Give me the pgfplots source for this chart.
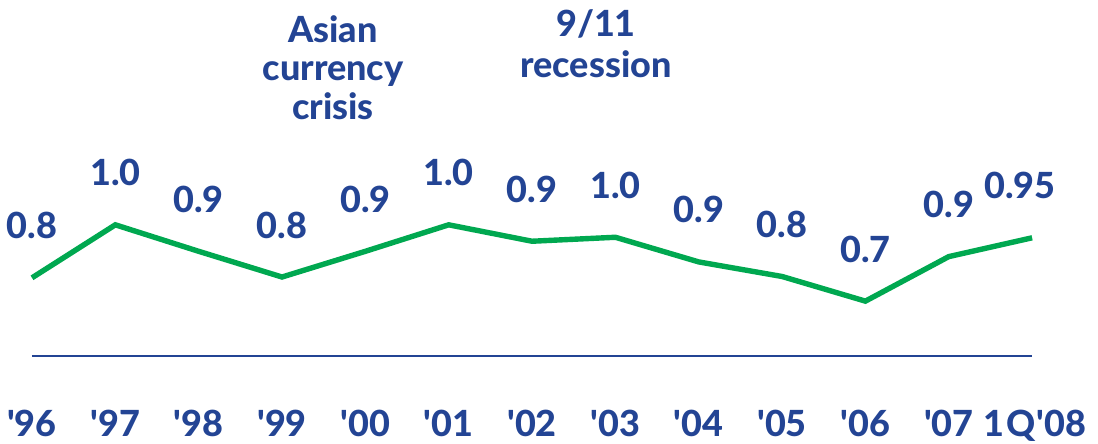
\documentclass[border=0pt]{standalone}
\usepackage{fontspec}
\setmainfont{Lato}
\newfontfamily\heavyfont{Lato Heavy}
\usepackage{pgfplots}
\pgfplotsset{compat=1.18}
\definecolor{gblue}{RGB}{35,68,148}
\definecolor{ggreen}{RGB}{0,168,80}
\newcommand{\lblfont}{\fontsize{18}{19.75}\selectfont\heavyfont}
\pgfplotstableread{
x y lab
0 0.800 0.8
1 1.000 1.0
2 0.900 0.9
3 0.803 0.8
4 0.900 0.9
5 1.000 1.0
6 0.938 0.9
7 0.953 1.0
8 0.860 0.9
9 0.805 0.8
10 0.712 0.7
11 0.880 0.9
12 0.951 0.95
}\datatable
\begin{document}
\begin{tikzpicture}
\useasboundingbox (-16pt,-44pt) rectangle (533pt,178pt);
\begin{axis}[
  x=41.67pt, y=132.5pt,
  xmin=0, xmax=12, ymin=0.505, ymax=1.0,
  axis x line*=bottom, axis y line=none,
  axis line style={-, gblue, line width=1pt},
  xtick={0,...,12},
  xticklabels={{\textquotesingle96},{\textquotesingle97},{\textquotesingle98},{\textquotesingle99},{\textquotesingle00},{\textquotesingle01},{\textquotesingle02},{\textquotesingle03},{\textquotesingle04},{\textquotesingle05},{\textquotesingle06},{\textquotesingle07},{\hspace{3pt}1\kern1pt Q\kern0.5pt\textquotesingle08}},
  major tick length=0,
  ytick=\empty,
  clip=false,
  xticklabel style={font=\lblfont, text=gblue, anchor=base, yshift=-40.5pt},
  nodes near coords,
  point meta=explicit symbolic,
  every node near coord/.append style={font=\lblfont, text=gblue, anchor=center, yshift=26pt},
  coordinate style/.condition={\coordindex==12}{xshift=-6pt},
]
\addplot[ggreen, line width=2.7pt, line join=miter] table[x=x, y=y, meta=lab] {\datatable};
\end{axis}
\node[anchor=base, text=gblue, font=\lblfont] at (150.5pt,156.5pt) {Asian};
\node[anchor=base, text=gblue, font=\lblfont] at (150.5pt,137.5pt) {currency};
\node[anchor=base, text=gblue, font=\lblfont] at (150.5pt,118pt) {crisis};
\node[anchor=base, text=gblue, font=\lblfont] at (282pt,159.5pt) {9/11};
\node[anchor=base, text=gblue, font=\lblfont] at (282pt,139pt) {recession};
\end{tikzpicture}
\end{document}
